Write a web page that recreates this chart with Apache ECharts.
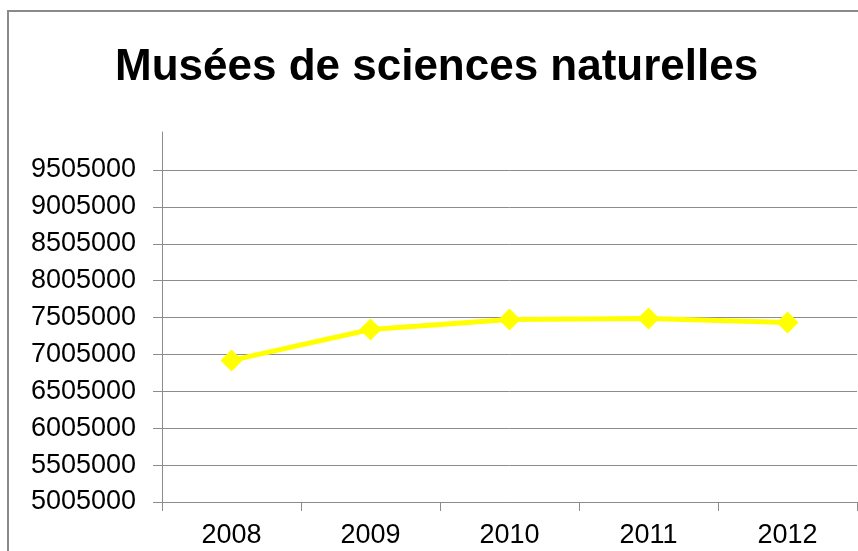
<!DOCTYPE html>
<html>
<head>
<meta charset="utf-8">
<script src="https://cdn.jsdelivr.net/npm/echarts@6/dist/echarts.min.js"></script>
<style>
	html, body {
		margin: 0;
		padding: 0;
		background: #fff;
	}
	#wrap {
		position: relative;
		width: 858px;
		height: 551px;
		overflow: hidden;
	}
	#frame {
		position: absolute;
		left: 7px;
		top: 10px;
		width: 900px;
		height: 600px;
		border: 2px solid #8a8a8a;
	}
	#chart {
		position: absolute;
		left: 0;
		top: 0;
		width: 858px;
		height: 551px;
	}
</style>
</head>
<body>
<div id="wrap">
	<div id="frame"></div>
	<div id="chart"></div>
</div>
<script type="text/javascript">
	// données
	var years = ['2008', '2009', '2010', '2011', '2012'];
	var visitors = [6924000, 7343000, 7478000, 7491000, 7437000];
	var yMin = 5005000;
	var yMax = 9505000;
	var yStep = 500000;

	var gridColor = '#8c8c8c';
	var labelFont = {
		fontFamily: '"Liberation Sans", Arial, sans-serif',
		fontSize: 27,
		color: '#000'
	};

	var myChart = echarts.init(document.getElementById('chart'), null, {renderer: 'canvas'});
	var option = {
		animation: false,
		title: {
			text: 'Musées de sciences naturelles',
			left: 115,
			top: 46,
			padding: 0,
			textStyle: {
				fontFamily: '"Liberation Sans", Arial, sans-serif',
				fontWeight: 'bold',
				fontSize: 44,
				color: '#000'
			}
		},
		grid: [
			{left: 162, right: 1, top: 170, bottom: 49},
			// petit bout d'axe au-dessus de la dernière graduation
			{left: 162, right: 1, top: 132, height: 38}
		],
		xAxis: [
			{
				type: 'category',
				gridIndex: 0,
				data: years,
				boundaryGap: true,
				axisLine: {lineStyle: {color: gridColor, width: 1}},
				axisTick: {show: true, length: 9, inside: false, lineStyle: {color: gridColor}},
				axisLabel: Object.assign({margin: 20}, labelFont),
				splitLine: {show: false}
			},
			{
				type: 'category',
				gridIndex: 1,
				data: years,
				show: false
			}
		],
		yAxis: [
			{
				type: 'value',
				gridIndex: 0,
				min: yMin,
				max: yMax,
				interval: yStep,
				axisLine: {show: true, lineStyle: {color: gridColor, width: 1}},
				axisTick: {show: true, length: 9, lineStyle: {color: gridColor}},
				axisLabel: Object.assign({
					margin: 26,
					formatter: function (v) { return String(v); }
				}, labelFont),
				splitLine: {show: true, lineStyle: {color: gridColor, width: 1}}
			},
			{
				type: 'value',
				gridIndex: 1,
				min: 0,
				max: 1,
				axisLine: {show: true, lineStyle: {color: gridColor, width: 1}},
				axisTick: {show: false},
				axisLabel: {show: false},
				splitLine: {show: false}
			}
		],
		series: [
			{
				name: 'Musées de sciences naturelles',
				type: 'line',
				xAxisIndex: 0,
				yAxisIndex: 0,
				data: visitors,
				symbol: 'diamond',
				symbolSize: 22,
				lineStyle: {color: '#ffff00', width: 5},
				itemStyle: {color: '#ffff00'}
			}
		]
	};
	myChart.setOption(option);
</script>
</body>
</html>
